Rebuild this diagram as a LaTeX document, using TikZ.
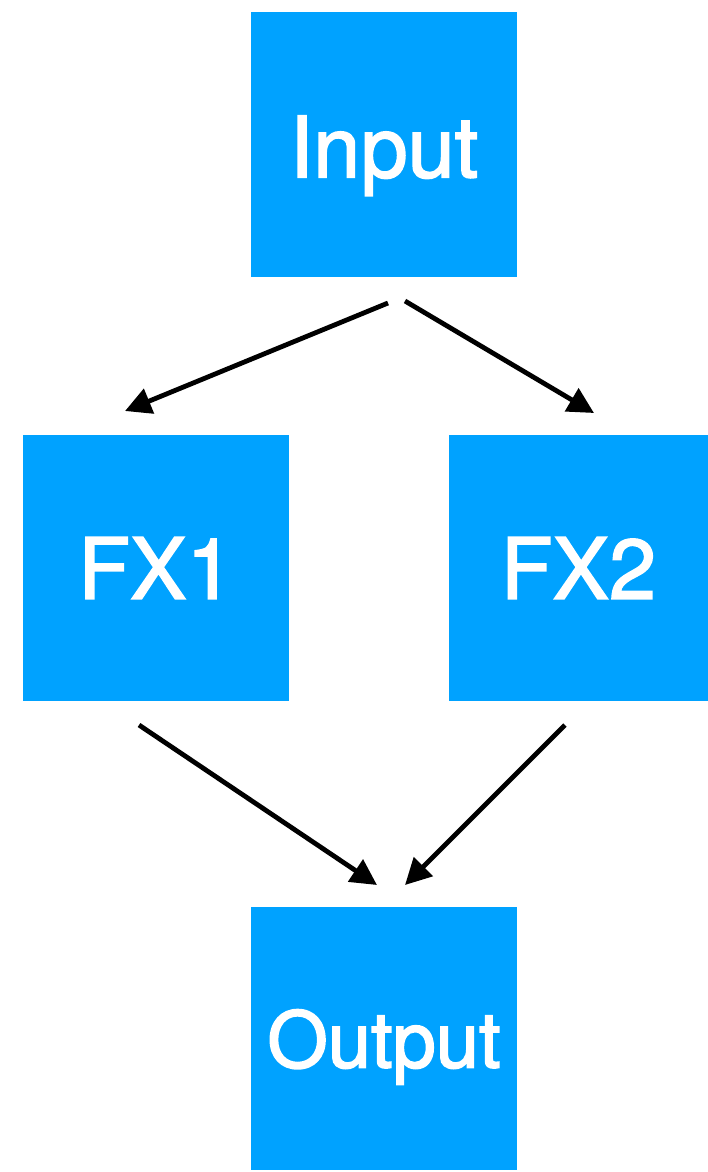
\documentclass[tikz,border=0pt]{standalone}
\usepackage{fontspec}
\setmainfont{TeX Gyre Heros}
\usetikzlibrary{arrows.meta}
\definecolor{boxblue}{RGB}{0,162,255}
\newcommand{\thicktext}[1]{\special{pdf:literal direct 2 Tr 1.6 w 1 1 1 RG}#1\special{pdf:literal direct 0 Tr}}
\begin{document}
\begin{tikzpicture}[x=1bp,y=-1bp,
  box/.style={fill=boxblue, draw=none, text=white, inner sep=0pt,
    text depth=0pt, font=\fontsize{85}{90}\selectfont},
  conn/.style={line width=4.8bp, -{Triangle[length=26bp,width=26bp]}}]
\useasboundingbox (0,0) rectangle (708,1172);
\node[box, minimum width=266bp, minimum height=265bp] (in) at (384,144.5) {\raisebox{-4bp}{\thicktext{Input}}};
\node[box, minimum width=266bp, minimum height=266bp] (fx1) at (156,568) {\thicktext{FX1}};
\node[box, minimum width=259bp, minimum height=266bp] (fx2) at (578.5,568) {\thicktext{FX2}};
\node[box, minimum width=266bp, minimum height=263bp, font=\fontsize{78}{80}\selectfont] (out) at (384,1038.5) {\thicktext{Output}};
\coordinate (a1s) at (388,303);
\coordinate (a1e) at (125,411);
\coordinate (a2s) at (405,301);
\coordinate (a2e) at (594,413);
\coordinate (a3s) at (139,725);
\coordinate (a3e) at (377,885);
\coordinate (a4s) at (565,725);
\coordinate (a4e) at (405,885);
\draw[conn] (a1s) -- (a1e);
\draw[conn] (a2s) -- (a2e);
\draw[conn] (a3s) -- (a3e);
\draw[conn] (a4s) -- (a4e);
\end{tikzpicture}
\end{document}
